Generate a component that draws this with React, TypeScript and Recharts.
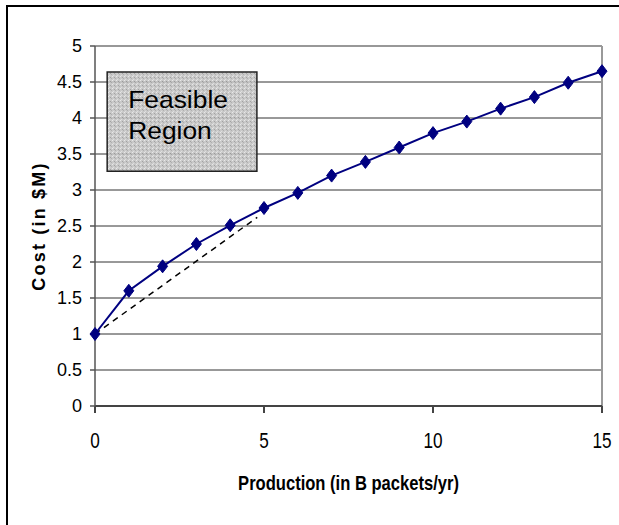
import { CartesianGrid, Label, Line, LineChart, ReferenceArea, ReferenceLine, XAxis, YAxis } from "recharts"

// production (B packets/yr) vs cost ($M)
const production = [0, 1, 2, 3, 4, 5, 6, 7, 8, 9, 10, 11, 12, 13, 14, 15]
const cost = [1.0, 1.6, 1.94, 2.25, 2.51, 2.75, 2.96, 3.2, 3.39, 3.59, 3.79, 3.95, 4.13, 4.29, 4.49, 4.65]

const xTicks = [0, 5, 10, 15]
const yTicks = [0, 0.5, 1, 1.5, 2, 2.5, 3, 3.5, 4, 4.5, 5]

// dashed straight line from the first point
const dashX = [0, 4.8]
const dashY = [1, 2.62]

// "Feasible Region" box corners
const boxX = [0.36, 4.79]
const boxY = [3.26, 4.64]
const boxText = ["Feasible", "Region"]

const data = production.map((p, i) => ({ x: p, y: cost[i] }))

const font = "'Liberation Sans', Arial, sans-serif"

const Diamond = (props: any) => {
    const { cx, cy } = props
    if (cx == null || cy == null) return null
    return (
        <polygon
            points={`${cx},${cy - 6.5} ${cx + 5},${cy} ${cx},${cy + 6.5} ${cx - 5},${cy}`}
            fill="#000080"
            stroke="#000080"
        />
    )
}

// tick labels are drawn a bit condensed, like the original
const XTick = (props: any) => {
    const { x, y, payload } = props
    return (
        <g transform={`translate(${x},${y}) scale(0.78,1)`}>
            <text x={0} y={0} dy="0.71em" textAnchor="middle" fontSize={22} fontFamily={font} fill="#000">
                {payload.value}
            </text>
        </g>
    )
}

const YTick = (props: any) => {
    const { x, y, payload } = props
    return (
        <text x={x} y={y} dy="0.36em" textAnchor="end" fontSize={18} fontFamily={font} fill="#000">
            {payload.value}
        </text>
    )
}

const XTitle = (props: any) => {
    const { viewBox } = props
    if (!viewBox) return null
    const cx = viewBox.x + viewBox.width / 2
    return (
        <g transform={`translate(${cx},490) scale(0.85,1)`}>
            <text x={0} y={0} textAnchor="middle" fontSize={19.5} fontWeight="bold" fontFamily={font} fill="#000">
                Production (in B packets/yr)
            </text>
        </g>
    )
}

const YTitle = (props: any) => {
    const { viewBox } = props
    if (!viewBox) return null
    const cy = viewBox.y + viewBox.height / 2
    return (
        <g transform={`translate(45,${cy}) rotate(-90)`}>
            <text x={0} y={0} textAnchor="middle" fontSize={18} fontWeight="bold" fontFamily={font} letterSpacing={2.2} fill="#000">
                Cost (in $M)
            </text>
        </g>
    )
}

const BoxLabel = (props: any) => {
    const { viewBox } = props
    if (!viewBox) return null
    const { x, y } = viewBox
    return (
        <g>
            {boxText.map((t, i) => (
                <g key={t} transform={`translate(${x + 21},${y + 36 + i * 31}) scale(1.1,1)`}>
                    <text x={0} y={0} fontSize={24} fontFamily={font} fill="#000">
                        {t}
                    </text>
                </g>
            ))}
        </g>
    )
}

export default function App() {
    return (
        <div style={{ position: "absolute", left: 0, top: 0, width: 619, height: 525, overflow: "hidden", background: "#fff" }}>
            <div
                style={{
                    position: "absolute",
                    left: 6,
                    top: 5,
                    width: 700,
                    height: 600,
                    border: "2px solid #000",
                }}
            />
            <div style={{ position: "absolute", left: 0, top: 0 }}>
                <LineChart width={619} height={525} data={data} margin={{ top: 46, right: 17, left: 0, bottom: 29 }}>
                    <defs>
                        <pattern id="stipple" width="4" height="4" patternUnits="userSpaceOnUse">
                            <rect width="4" height="4" fill="#c4c4c4" />
                            <rect x="0" y="0" width="1" height="1" fill="#e6e6e6" />
                            <rect x="2" y="1" width="1" height="1" fill="#9a9a9a" />
                            <rect x="1" y="3" width="1" height="1" fill="#dcdcdc" />
                            <rect x="3" y="2" width="1" height="1" fill="#a8a8a8" />
                        </pattern>
                    </defs>
                    <CartesianGrid vertical={false} stroke="#333" strokeWidth={1} />
                    <XAxis
                        dataKey="x"
                        type="number"
                        domain={[0, 15]}
                        ticks={xTicks}
                        height={90}
                        stroke="#444"
                        strokeWidth={2}
                        tickSize={7}
                        tickMargin={19}
                        tick={<XTick />}
                    >
                        <Label content={<XTitle />} />
                    </XAxis>
                    <YAxis
                        type="number"
                        domain={[0, 5]}
                        ticks={yTicks}
                        width={95}
                        stroke="#555"
                        strokeWidth={1.5}
                        tickSize={5}
                        tickMargin={8}
                        tick={<YTick />}
                    >
                        <Label content={<YTitle />} />
                    </YAxis>
                    <ReferenceLine y={5} stroke="#999" strokeWidth={1.5} />
                    <ReferenceLine x={15} stroke="#999" strokeWidth={2} />
                    <ReferenceArea
                        x1={boxX[0]}
                        x2={boxX[1]}
                        y1={boxY[0]}
                        y2={boxY[1]}
                        fill="url(#stipple)"
                        fillOpacity={0.92}
                        stroke="#222"
                        strokeWidth={1.5}
                        label={<BoxLabel />}
                    />
                    <ReferenceLine
                        segment={[
                            { x: dashX[0], y: dashY[0] },
                            { x: dashX[1], y: dashY[1] },
                        ]}
                        stroke="#000"
                        strokeWidth={1.5}
                        strokeDasharray="6 5"
                    />
                    <Line
                        dataKey="y"
                        stroke="#000080"
                        strokeWidth={2}
                        dot={<Diamond />}
                        activeDot={false}
                        isAnimationActive={false}
                    />
                </LineChart>
            </div>
        </div>
    )
}
